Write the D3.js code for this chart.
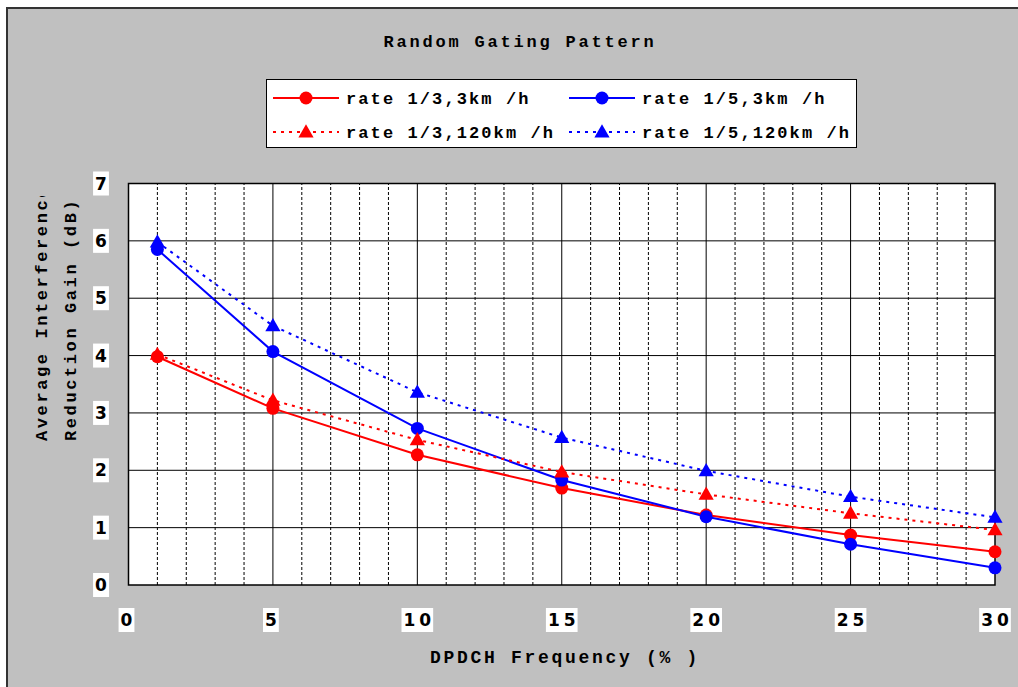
<!DOCTYPE html>
<html><head><meta charset="utf-8">
<script src="https://cdn.jsdelivr.net/npm/d3@7"></script>
<style>body{margin:0;background:#fff}svg{display:block}</style>
</head><body>
<svg id="c" width="1018" height="687"></svg>
<script>
const xValues = [1, 5, 10, 15, 20, 25, 30];
const rate13_3 = [3.98, 3.08, 2.27, 1.69, 1.22, 0.87, 0.58];
const rate15_3 = [5.85, 4.07, 2.73, 1.83, 1.19, 0.71, 0.30];
const rate13_120 = [4.02, 3.22, 2.53, 1.97, 1.58, 1.25, 0.96];
const rate15_120 = [5.98, 4.52, 3.36, 2.57, 1.99, 1.54, 1.18];
const xTicks = [0, 5, 10, 15, 20, 25, 30];
const yTicks = [0, 1, 2, 3, 4, 5, 6, 7];
const seriesNames = ["rate 1/3,3km /h", "rate 1/5,3km /h", "rate 1/3,120km /h", "rate 1/5,120km /h"];

const series = [
  {name: seriesNames[0], values: rate13_3, color: "#ff0000", dash: null, marker: "circle"},
  {name: seriesNames[1], values: rate15_3, color: "#0000ff", dash: null, marker: "circle"},
  {name: seriesNames[2], values: rate13_120, color: "#ff0000", dash: "3,5", marker: "triangle"},
  {name: seriesNames[3], values: rate15_120, color: "#0000ff", dash: "3,5", marker: "triangle"}
];

const MONO = "'Liberation Mono', 'DejaVu Sans Mono', monospace";
const svg = d3.select("#c");
svg.append("rect").attr("x", 7).attr("y", 8).attr("width", 1100).attr("height", 700)
  .attr("fill", "#c0c0c0").attr("stroke", "#333").attr("stroke-width", 2);

const x = d3.scaleLinear().domain([0, 30]).range([128.5, 995]);
const y = d3.scaleLinear().domain([0, 7]).range([585, 183.5]);

svg.append("rect").attr("x", x(0)).attr("y", y(7)).attr("width", x(30) - x(0)).attr("height", y(0) - y(7)).attr("fill", "#fff");

const g = svg.append("g");
d3.range(1, 30).forEach(v => {
  g.append("line").attr("x1", x(v)).attr("x2", x(v)).attr("y1", y(0)).attr("y2", y(7))
    .attr("stroke", "#000").attr("stroke-width", 1)
    .attr("stroke-dasharray", v % 5 === 0 ? null : "3,2");
});
d3.range(1, 7).forEach(v => {
  g.append("line").attr("x1", x(0)).attr("x2", x(30)).attr("y1", y(v)).attr("y2", y(v))
    .attr("stroke", "#000").attr("stroke-width", 1);
});
svg.append("rect").attr("x", x(0)).attr("y", y(7)).attr("width", x(30) - x(0)).attr("height", y(0) - y(7))
  .attr("fill", "none").attr("stroke", "#000").attr("stroke-width", 1.5);

const line = d3.line().x((d, i) => x(xValues[i])).y(d => y(d));
const tri = d3.symbol().type(d3.symbolTriangle).size(100);
series.forEach(s => {
  svg.append("path").attr("d", line(s.values)).attr("fill", "none").attr("stroke", s.color)
    .attr("stroke-width", 2).attr("stroke-dasharray", s.dash);
});
series.forEach(s => {
  s.values.forEach((v, i) => {
    if (s.marker === "circle") {
      svg.append("circle").attr("cx", x(xValues[i])).attr("cy", y(v)).attr("r", 6.5).attr("fill", s.color);
    } else {
      svg.append("path").attr("d", tri).attr("transform", `translate(${x(xValues[i])},${y(v) + 1})`).attr("fill", s.color);
    }
  });
});

function boxedText(tx, ty, str, cls) {
  const t = svg.append("text").attr("x", tx).attr("y", ty).text(str)
    .attr("font-family", "DejaVu Sans").attr("font-weight", "bold").attr("font-size", 17)
    .attr("letter-spacing", cls === "x" ? 4 : 0)
    .attr("text-anchor", "middle").attr("dominant-baseline", "central").attr("fill", "#000");
  const b = t.node().getBBox();
  svg.insert("rect", () => t.node()).attr("x", b.x - 2).attr("y", ty - 12).attr("width", b.width + (cls === "x" ? 0 : 4)).attr("height", 24).attr("fill", "#fff");
}
yTicks.forEach(v => boxedText(101, y(v), String(v), "y"));
xTicks.forEach(v => boxedText(x(v) + (String(v).length > 1 ? 2 : 0), 620, String(v), "x"));

svg.append("text").attr("x", 520).attr("y", 47).text("Random Gating Pattern")
  .attr("font-family", MONO).attr("font-weight", "bold").attr("font-size", 17)
  .attr("letter-spacing", 2.8).attr("text-anchor", "middle").attr("fill", "#000");

svg.append("text").attr("x", 565).attr("y", 663).text("DPDCH Frequency (% )")
  .attr("font-family", MONO).attr("font-weight", "bold").attr("font-size", 18)
  .attr("letter-spacing", 2.7).attr("text-anchor", "middle").attr("fill", "#000");

svg.append("clipPath").attr("id", "yclip").append("rect").attr("x", 0).attr("y", 196).attr("width", 120).attr("height", 400);
const yl = svg.append("g").attr("clip-path", "url(#yclip)");
[["Average Interference", 47], ["Reduction Gain (dB)", 76]].forEach(([s, xx]) => {
  yl.append("text").attr("transform", `translate(${xx},441) rotate(-90)`).text(s)
    .attr("font-family", MONO).attr("font-weight", "bold").attr("font-size", 17)
    .attr("letter-spacing", 2.6).attr("text-anchor", "start").attr("fill", "#000");
});

svg.append("rect").attr("x", 266.5).attr("y", 79.5).attr("width", 590).attr("height", 68)
  .attr("fill", "#fff").attr("stroke", "#000").attr("stroke-width", 1);
const legPos = [[273, 98], [569, 98], [273, 132], [569, 132]];
series.forEach((s, i) => {
  const [lx, ly] = legPos[i];
  svg.append("line").attr("x1", lx).attr("x2", lx + 66).attr("y1", ly).attr("y2", ly)
    .attr("stroke", s.color).attr("stroke-width", 2).attr("stroke-dasharray", s.dash);
  if (s.marker === "circle") svg.append("circle").attr("cx", lx + 33).attr("cy", ly).attr("r", 6.5).attr("fill", s.color);
  else svg.append("path").attr("d", tri).attr("transform", `translate(${lx + 33},${ly + 1})`).attr("fill", s.color);
  svg.append("text").attr("x", lx + 73).attr("y", ly + 6).text(s.name)
    .attr("font-family", MONO).attr("font-weight", "bold").attr("font-size", 17)
    .attr("letter-spacing", 2.1).attr("fill", "#000");
});
</script>
</body></html>
